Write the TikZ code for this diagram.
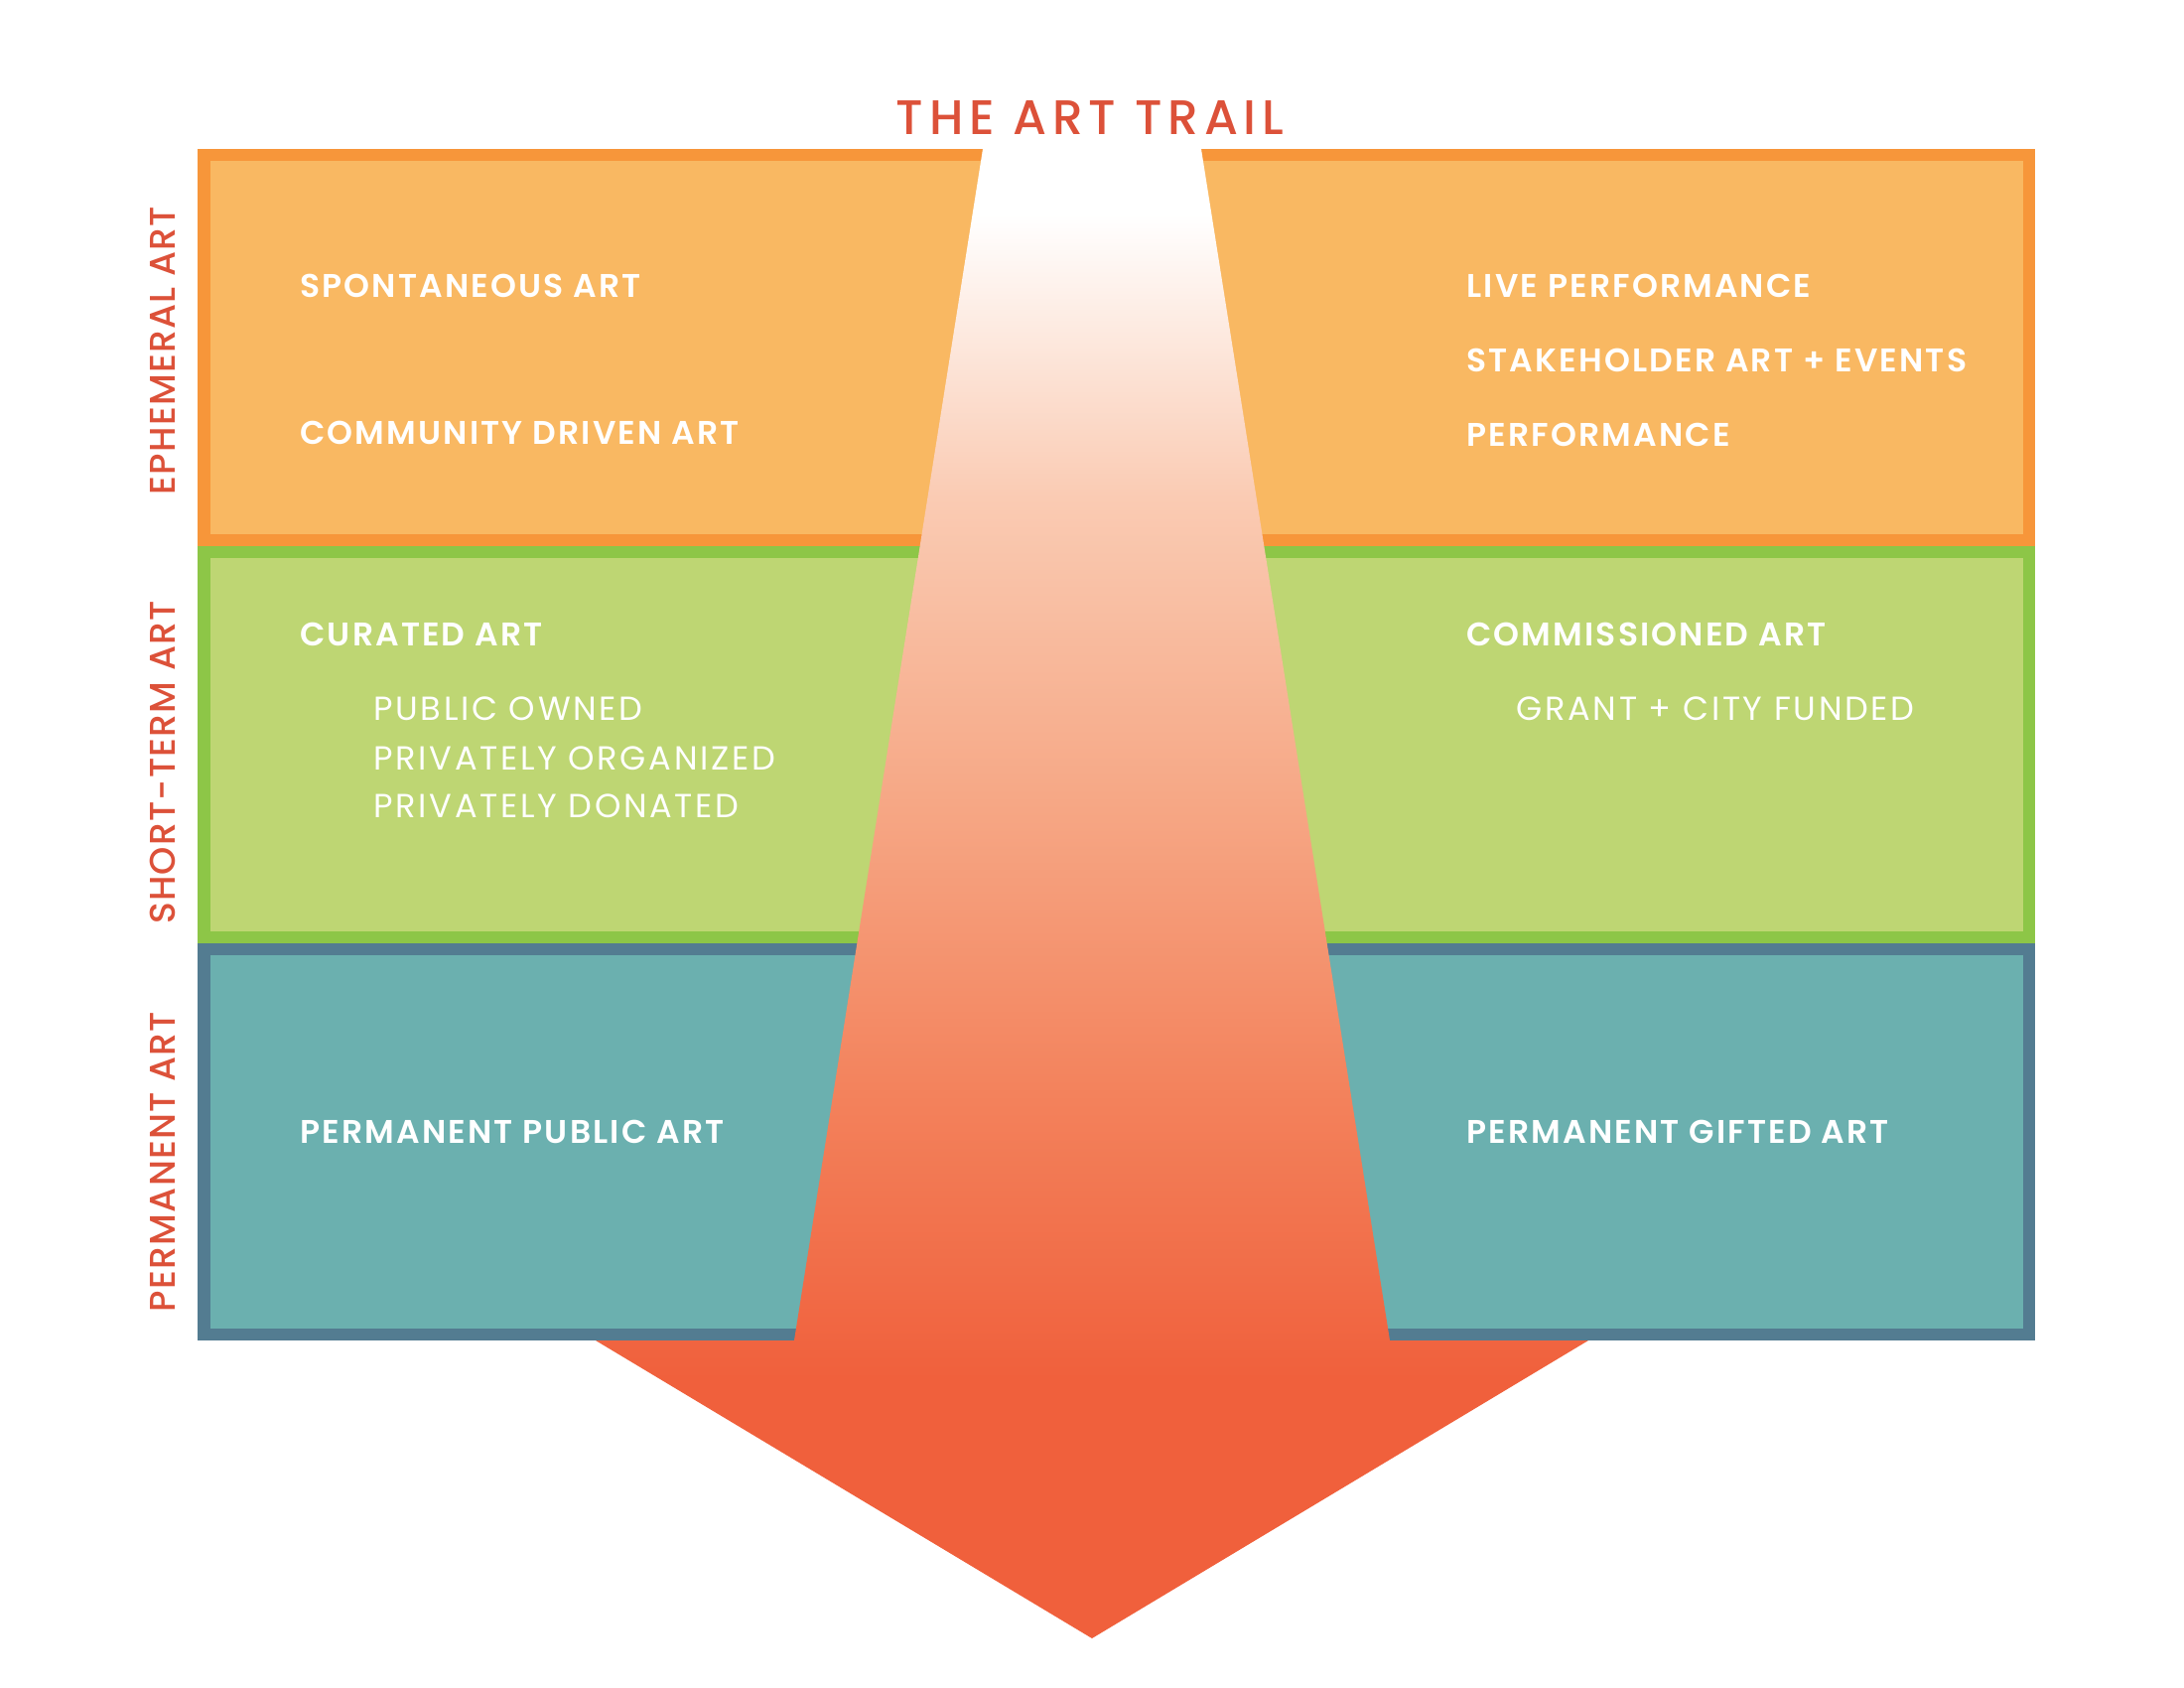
\documentclass[tikz,border=0pt]{standalone}
\usepackage{fontspec}
\setmainfont{Poppins}[BoldFont=Poppins SemiBold]
\newfontfamily\titlefont{Poppins Medium}
\definecolor{orBorder}{HTML}{F7963A}
\definecolor{orFill}{HTML}{F9B862}
\definecolor{grBorder}{HTML}{8DC647}
\definecolor{grFill}{HTML}{BED673}
\definecolor{tlBorder}{HTML}{537C91}
\definecolor{tlFill}{HTML}{6BB0AF}
\definecolor{titleRed}{HTML}{DC5139}
\definecolor{trailRed}{HTML}{F0603C}
\definecolor{trailB}{HTML}{F3825C}
\definecolor{trailC}{HTML}{F6A886}
\definecolor{trailD}{HTML}{FACBB3}
\pgfdeclareverticalshading{trail}{100bp}{color(0bp)=(trailRed); color(33.7bp)=(trailRed); color(43.3bp)=(trailB); color(53.3bp)=(trailC); color(63.3bp)=(trailD); color(72.8bp)=(white); color(100bp)=(white)}
\tikzset{
  lbl/.style={anchor=base west, inner sep=0pt, text=white, font=\fontsize{16.5}{18}\selectfont\bfseries\addfontfeatures{LetterSpace=6.5}},
  sublbl/.style={anchor=base west, inner sep=0pt, text=white, font=\fontsize{16.8}{18}\selectfont\addfontfeatures{LetterSpace=8}},
  sidelbl/.style={rotate=90, anchor=center, inner sep=0pt, text=titleRed, font=\fontsize{18}{20}\selectfont\titlefont\addfontfeatures{LetterSpace=3.5}},
  titlelbl/.style={anchor=base, inner sep=0pt, text=titleRed, font=\fontsize{24.4}{26}\selectfont\titlefont\addfontfeatures{LetterSpace=12}}
}
\begin{document}
\begin{tikzpicture}[x=0.5pt,y=-0.5pt]
\useasboundingbox (0,0) rectangle (2200,1700);
% bands
\fill[orBorder] (199,150) rectangle (2050,550);
\fill[orFill] (212,162) rectangle (2038,538);
\fill[grBorder] (199,550) rectangle (2050,950);
\fill[grFill] (212,562) rectangle (2038,938);
\fill[tlBorder] (199,950) rectangle (2050,1350);
\fill[tlFill] (212,962) rectangle (2038,1338);
% trail arrow
\shade[shading=trail] (990,150) -- (1210,150) -- (1400,1350) -- (1600,1350) -- (1100,1650) -- (600,1350) -- (800,1350) -- cycle;
% title
\node[titlelbl] (title) at (1098,136) {THE ART TRAIL};
% side labels
\node[sidelbl] (eph) at (164,353) {EPHEMERAL ART};
\node[sidelbl] (short) at (164,768) {SHORT-TERM ART};
\node[sidelbl] (perm) at (164,1170) {PERMANENT ART};
% left column
\node[lbl] (spont) at (302,300) {SPONTANEOUS ART};
\node[lbl] (comm) at (302,448) {COMMUNITY DRIVEN ART};
\node[lbl] (cur) at (302,650) {CURATED ART};
\node[sublbl] (pubown) at (376,725) {PUBLIC OWNED};
\node[sublbl] (privorg) at (376,775) {PRIVATELY ORGANIZED};
\node[sublbl] (privdon) at (376,823) {PRIVATELY DONATED};
\node[lbl] (permpub) at (302,1151) {PERMANENT PUBLIC ART};
% right column
\node[lbl] (live) at (1477,300) {LIVE PERFORMANCE};
\node[lbl] (stake) at (1477,375) {STAKEHOLDER ART + EVENTS};
\node[lbl] (perf) at (1477,450) {PERFORMANCE};
\node[lbl] (commis) at (1477,650) {COMMISSIONED ART};
\node[sublbl] (grant) at (1527,725) {GRANT + CITY FUNDED};
\node[lbl] (permgift) at (1477,1151) {PERMANENT GIFTED ART};
\end{tikzpicture}
\end{document}
